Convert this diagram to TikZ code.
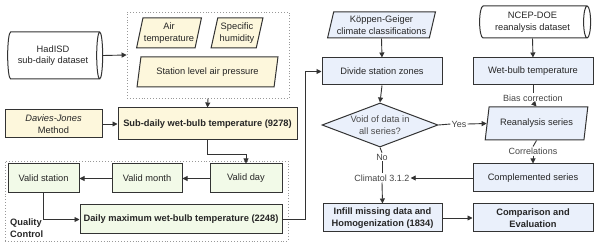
\documentclass[tikz,border=0pt]{standalone}
\usepackage{fontspec}
\setmainfont{Liberation Sans}
\usetikzlibrary{shapes.geometric,arrows.meta,positioning}
\definecolor{ycream}{HTML}{FDF7DC}
\definecolor{lgreen}{HTML}{F2FAE8}
\definecolor{lblue}{HTML}{EAF0FB}
\definecolor{edge}{HTML}{333333}
\definecolor{lbl}{HTML}{444444}
\tikzset{
  base/.style={draw=edge, line width=1pt, align=center, inner sep=1pt, font=\fontsize{9.3}{11.5}\selectfont, text=black!85},
  ybox/.style={base, rectangle, fill=ycream},
  gbox/.style={base, rectangle, fill=lgreen},
  bbox/.style={base, rectangle, fill=lblue},
  para/.style={base, trapezium, trapezium left angle=74, trapezium right angle=106, trapezium stretches=true},
  cyl/.style={base, cylinder, shape aspect=0.25, fill=white},
  dotbox/.style={draw=gray!80, dotted, line width=0.9pt, rectangle},
  conn/.style={draw=edge, line width=0.9pt},
  arr/.style={conn, -{Triangle[length=5pt,width=5pt]}},
  lab/.style={font=\fontsize{9}{11}\selectfont, text=lbl, inner sep=1pt}
}
\begin{document}
\begin{tikzpicture}[x=1pt,y=-1pt]
\useasboundingbox (0,0) rectangle (600,248);
% left top
\node[dotbox, minimum width=162pt, minimum height=86pt] (inputs) at (208,55) {};
\node[cyl, minimum height=95pt, minimum width=47pt, shape aspect=0.27] (hadisd) at (53,55.5) {HadISD\\sub-daily dataset};
\node[para, fill=ycream, minimum width=64pt, minimum height=30pt] (airt) at (169,33) {Air\\temperature};
\node[para, fill=ycream, minimum width=52pt, minimum height=30pt] (spech) at (237,33) {Specific\\humidity};
\node[para, fill=ycream, minimum width=141pt, minimum height=30pt] (slp) at (207.5,72) {Station level air pressure};
\node[ybox, minimum width=97pt, minimum height=28pt] (dj) at (53.5,124) {\textit{Davies-Jones}\\Method};
\node[ybox, minimum width=179pt, minimum height=32pt, font=\fontsize{9.3}{11.5}\selectfont\bfseries] (sub) at (207.5,124) {Sub-daily wet-bulb temperature (9278)};
% quality control
\node[dotbox, minimum width=283pt, minimum height=80pt] (qc) at (146.5,201) {};
\node[gbox, minimum width=71pt, minimum height=29pt] (vst) at (43.5,178.5) {Valid station};
\node[gbox, minimum width=70pt, minimum height=29pt] (vmo) at (147,178.5) {Valid month};
\node[gbox, minimum width=72pt, minimum height=29pt] (vday) at (246,178.5) {Valid day};
\node[gbox, minimum width=202pt, minimum height=29pt, font=\fontsize{9.3}{11.5}\selectfont\bfseries] (dmax) at (181,219.5) {Daily maximum wet-bulb temperature (2248)};
\node[font=\fontsize{9.3}{11.5}\selectfont\bfseries, align=left, anchor=west, inner sep=0pt, text=black!85] (qclab) at (10,228) {Quality\\Control};
% middle column
\node[para, fill=lblue, minimum width=108pt, minimum height=26pt] (kg) at (381.5,25) {Köppen-Geiger\\climate classifications};
\node[bbox, minimum width=120pt, minimum height=27pt] (div) at (382,71.5) {Divide station zones};
\node[base, diamond, fill=lblue, minimum width=116pt, minimum height=44pt, inner sep=0pt, aspect=2.6, text=black!70] (void) at (380,125) {Void of data in\\all series?};
\node[lab] (no) at (382,157) {No};
\node[lab] (clim) at (382,178) {Climatol 3.1.2};
\node[bbox, minimum width=119pt, minimum height=28pt, font=\fontsize{9.3}{11.5}\selectfont\bfseries] (infill) at (382.5,218) {Infill missing data and\\Homogenization (1834)};
% right column
\node[cyl, minimum height=111pt, minimum width=32pt, shape aspect=0.32] (ncep) at (532.5,22) {NCEP-DOE\\reanalysis dataset};
\node[bbox, minimum width=120pt, minimum height=27pt] (wb) at (533,71.5) {Wet-bulb temperature};
\node[lab] (bias) at (533,98) {Bias correction};
\node[para, fill=lblue, minimum width=103pt, minimum height=33pt] (rean) at (536.5,123.5) {Reanalysis series};
\node[lab] (corr) at (533,151) {Correlations};
\node[bbox, minimum width=120pt, minimum height=28pt] (comp) at (533,178) {Complemented series};
\node[bbox, minimum width=120pt, minimum height=28pt, font=\fontsize{9.3}{11.5}\selectfont\bfseries] (cmp) at (533,218) {Comparison and\\Evaluation};
\node[lab] (yes) at (459,124) {Yes};
\coordinate (turn) at (305,219.5);
% connectors
\draw[arr] (hadisd.east) -- (inputs.west);
\draw[arr] (inputs.south) -- (sub.north);
\draw[arr] (dj.east) -- (sub.west);
\draw[arr] (sub.south) -- ++(0,14) -| (vday.north);
\draw[arr] (vday.west) -- (vmo.east);
\draw[arr] (vmo.west) -- (vst.east);
\draw[arr] (vst.south) |- (dmax.west);
\draw[arr] (dmax.east) -- (turn) |- (div.west);
\draw[arr] (kg.south) -- (div.north);
\draw[arr] (div.south) -- (void.north);
\draw[conn] (void.east) -- (yes.west);
\draw[arr] (yes.east) -- (rean.west);
\draw[conn] (void.south) -- (no.north);
\draw[conn] (no.south) -- (clim.north);
\draw[arr] (clim.south) -- (infill.north);
\draw[arr] (comp.west) -- (clim.east);
\draw[arr] (infill.east) -- (cmp.west);
\draw[arr] (ncep.south) -- (wb.north);
\draw[conn] (wb.south) -- (bias.north);
\draw[arr] (bias.south) -- (rean.north);
\draw[conn] (rean.south) -- (corr.north);
\draw[arr] (corr.south) -- (comp.north);
\end{tikzpicture}
\end{document}
